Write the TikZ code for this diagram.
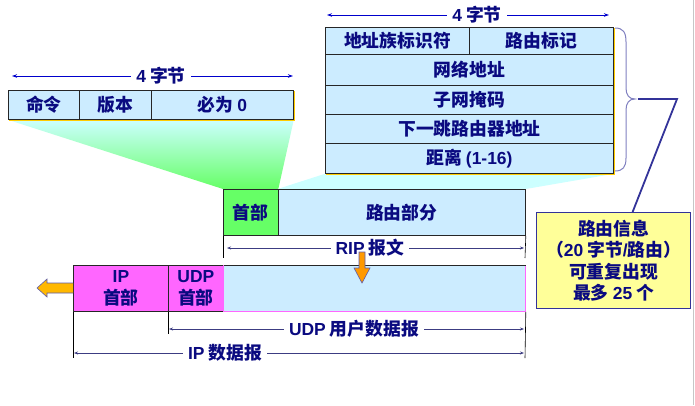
\documentclass[tikz,border=0pt]{standalone}
\usepackage{fontspec}
\setmainfont{Noto Sans CJK SC}
\newfontfamily\latf{Liberation Sans}[Scale=0.98]
\usetikzlibrary{arrows.meta,calc}
\definecolor{navy}{RGB}{10,10,128}
\definecolor{lblue}{RGB}{204,236,255}
\definecolor{hgreen}{RGB}{102,255,102}
\definecolor{fcyan}{RGB}{204,255,255}
\definecolor{pinkc}{RGB}{255,102,255}
\definecolor{yel}{RGB}{255,255,153}
\definecolor{gold}{RGB}{255,204,0}
\definecolor{orng}{RGB}{255,153,0}
\definecolor{orng2}{RGB}{255,184,0}
\definecolor{brc}{RGB}{128,128,192}
\definecolor{lnk}{RGB}{51,51,153}
\definecolor{dimc}{RGB}{60,60,130}
\definecolor{topdim}{RGB}{0,0,204}
\pgfdeclarelayer{bg}
\pgfsetlayers{bg,main}
\newcommand\la[1]{{\latf #1}}
\begin{document}
\begin{tikzpicture}[x=1pt,y=-1pt,
  font=\fontsize{17.8}{21.5}\selectfont\bfseries,
  cell/.style={draw=black!85, fill=lblue, line width=0.8pt, text=navy,
    inner sep=0pt, align=center, anchor=north west},
  dimline/.style={draw=dimc, line width=0.6pt,
    {Stealth[length=4pt,width=3pt]}-{Stealth[length=4pt,width=3pt]}},
  topline/.style={draw=topdim, line width=0.9pt,
    {Stealth[length=5pt,width=3.5pt]}-{Stealth[length=5pt,width=3.5pt]}},
  dimlab/.style={fill=white, text=navy, inner xsep=5pt, inner ysep=1pt},
  tickl/.style={draw=black, line width=0.6pt},
  arrowfill/.style={draw=lnk!80, line width=0.6pt}]
\useasboundingbox (0,0) rectangle (695,405);

% ---- top-left header box
\node[cell, minimum width=71pt, minimum height=29pt] (cmd) at (8,90) {命令};
\node[cell, minimum width=72pt, minimum height=29pt] (ver) at (79,90) {版本};
\node[cell, minimum width=142pt, minimum height=29pt] (zero) at (151,90) {必为 \la{0}};
\draw[gold, line width=1pt] ($(cmd.south west)+(1,1)$) -- ($(zero.south east)+(1,1)$) -- ($(zero.north east)+(1,1)$);

% ---- top-right route entry box
\node[cell, minimum width=144pt, minimum height=27pt] (afi) at (325,27) {地址族标识符};
\node[cell, minimum width=144pt, minimum height=27pt] (tag) at (469,27) {路由标记};
\node[cell, minimum width=288pt, minimum height=31pt] (net) at (325,54) {网络地址};
\node[cell, minimum width=288pt, minimum height=29pt] (mask) at (325,85) {子网掩码};
\node[cell, minimum width=288pt, minimum height=29pt] (nhop) at (325,114) {下一跳路由器地址};
\node[cell, minimum width=288pt, minimum height=30pt] (dist) at (325,143) {距离 \la{(1-16)}};
\draw[gold, line width=1pt] ($(dist.south west)+(1,1)$) -- ($(dist.south east)+(1,1)$) -- ($(tag.north east)+(1,1)$);

% ---- RIP message
\node[cell, fill=hgreen, minimum width=54.5pt, minimum height=46pt] (hdr) at (223,189) {首部};
\node[cell, minimum width=247.5pt, minimum height=46pt] (route) at (277.5,189) {路由部分};

% ---- IP datagram
\node[cell, fill=pinkc, minimum width=95pt, minimum height=46pt] (iph) at (73,265) {\la{IP}\\首部};
\node[cell, fill=pinkc, minimum width=55pt, minimum height=46pt] (udph) at (168,265) {\la{UDP}\\首部};
\node[cell, draw=pinkc, minimum width=302pt, minimum height=46pt] (data) at (223,265) {};
\draw[black!85, line width=0.8pt] (udph.north east) -- (data.north east);

% ---- funnels
\begin{pgfonlayer}{bg}
\shade[top color=fcyan, bottom color=hgreen] (cmd.south west) -- (zero.south east) -- (hdr.north east) -- (hdr.north west) -- cycle;
\fill[fcyan] (dist.south west) -- (dist.south east) -- (route.north east) -- (route.north west) -- cycle;
\end{pgfonlayer}

% ---- dimension arrows
\coordinate (d1a) at (12,76);
\coordinate (d1b) at (293,76);
\draw[topline] (d1a) -- (d1b);
\node[dimlab] (d1l) at (161,76) {\la{4} 字节};

\coordinate (d2a) at (327,15);
\coordinate (d2b) at (609,15);
\draw[topline] (d2a) -- (d2b);
\node[dimlab] (d2l) at (477,15) {\la{4} 字节};

\coordinate (r1) at (223,258);
\coordinate (r2) at (525,258);
\draw[tickl] (hdr.south west) -- (r1);
\draw[tickl] (route.south east) -- (r2);
\coordinate (ra) at (227,248);
\coordinate (rb) at (524,248);
\draw[dimline] (ra) -- (rb);
\node[dimlab] (ripl) at (370,248) {\la{RIP} 报文};

\coordinate (u1) at (168,334);
\draw[tickl] (udph.south west) -- (u1);
\coordinate (ua) at (169,329);
\coordinate (ub) at (524,329);
\draw[dimline] (ua) -- (ub);
\node[dimlab] (udpl) at (354,329) {\la{UDP} 用户数据报};

\coordinate (i1) at (73,358);
\coordinate (i2) at (525,358);
\draw[tickl] (iph.south west) -- (i1);
\draw[tickl] (data.south east) -- (i2);
\coordinate (ia) at (74,353);
\coordinate (ib) at (524,353);
\draw[dimline] (ia) -- (ib);
\node[dimlab] (ipl) at (225,353) {\la{IP} 数据报};

% ---- orange arrows
\draw[arrowfill, fill=orng] (359,252) -- (365,252) -- (365,268) -- (370,268) -- (362,283) -- (354,268) -- (359,268) -- cycle;
\draw[arrowfill, fill=orng2] (iph.west |- 0,283) -- (47,283) -- (47,279) -- (37,288) -- (47,297) -- (47,293) -- (iph.west |- 0,293);

% ---- brace and routing info box
\draw[brc, line width=1pt] (615,28) .. controls (623,28) and (626,32) .. (626,42) -- (626,88)
  .. controls (626,95) and (629,99) .. (635,99)
  .. controls (629,99) and (626,103) .. (626,110) -- (626,158)
  .. controls (626,167) and (623,171) .. (615,171);
\coordinate (btip) at (638,99);
\coordinate (bend) at (677,99);
\node[draw=lnk, line width=1.2pt, fill=yel, text=navy, align=center,
  minimum width=154pt, minimum height=96pt, inner sep=0pt, anchor=north west] (info) at (536,212)
  {路由信息\\（\la{20} 字节\la{/}路由）\\可重复出现\\最多 \la{25} 个};
\draw[lnk, line width=1.8pt] (btip) -- (bend) -- ($(info.north)+(19,0)$);

% ---- slide edge
\draw[gray!45, line width=1.5pt] (693.5,0) -- (693.5,405);
\end{tikzpicture}
\end{document}
